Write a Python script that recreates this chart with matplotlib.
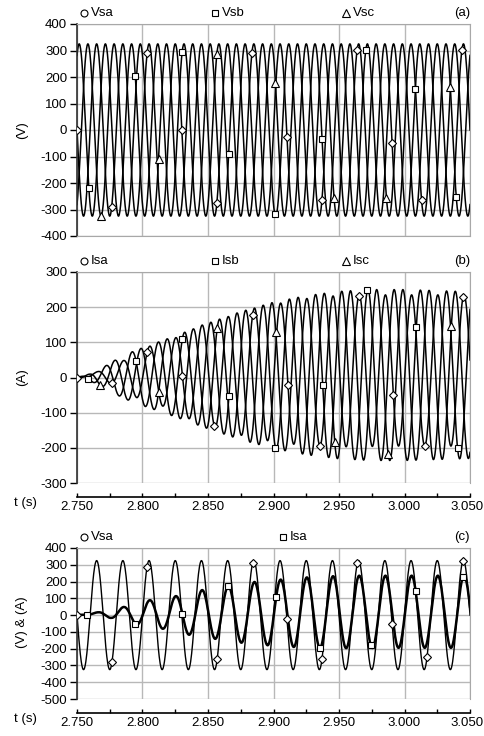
import numpy as np
import matplotlib.pyplot as plt
from matplotlib.lines import Line2D
from matplotlib.ticker import MultipleLocator, FormatStrFormatter
from matplotlib.transforms import ScaledTranslation

plt.rcParams['font.family'] = ['Liberation Sans', 'DejaVu Sans']
plt.rcParams['font.size'] = 9.5
plt.rcParams['axes.unicode_minus'] = False

# ---- waveform parameters ----
t_start, t_end = 2.750, 3.050
f_grid = 50.0          # Hz, 15 cycles in 0.3 s
v_amp = 325.0          # V peak
i_lag_deg = 8.0        # current lag behind voltage
dt = 0.00025

# Isb / Isc envelope, panel (b)
env_t = [2.750, 2.760, 2.770, 2.780, 2.790, 2.800, 2.825, 2.850, 2.875, 2.900,
         2.925, 2.950, 2.975, 3.000, 3.025, 3.050]
env_i = [0, 10, 28, 50, 68, 82, 115, 150, 182, 208, 226, 238, 243, 243, 240, 237]
env_dc = 7.0

# Isa peaks / troughs, panel (c)
isa_pk_t = [2.750, 2.766, 2.786, 2.806, 2.826, 2.846, 2.866, 2.886, 2.906, 2.926,
            2.946, 2.966, 2.986, 3.006, 3.026, 3.050]
isa_pk = [0, 17, 49, 90, 114, 150, 174, 198, 212, 225, 232, 235, 235, 235, 235, 235]
isa_tr_t = [2.750, 2.756, 2.776, 2.796, 2.816, 2.836, 2.856, 2.876, 2.896, 2.916,
            2.936, 2.956, 2.976, 2.996, 3.016, 3.036, 3.050]
isa_tr = [0, 3, -17, -58, -82, -118, -142, -165, -180, -190, -195, -197, -196,
          -195, -195, -195, -195]

# ---- marker points (t, value) ----
vsa_mk_t = [2.750, 2.7765, 2.802, 2.829, 2.8555, 2.883, 2.909, 2.935, 2.962, 2.988, 3.015, 3.042]
vsa_mk_v = [0, -290, 285, 0, -280, 290, -20, -265, 300, -40, -260, 300]
vsb_mk_t = [2.758, 2.793, 2.829, 2.864, 2.899, 2.935, 2.971, 3.006, 3.041]
vsb_mk_v = [-210, 212, 290, -95, -320, -42, 300, 165, -255]
vsc_mk_t = [2.767, 2.812, 2.856, 2.899, 2.944, 2.988, 3.032]
vsc_mk_v = [-325, -115, 285, 185, -255, -260, 165]

isa_mk_t = [2.750, 2.777, 2.803, 2.829, 2.8555, 2.883, 2.909, 2.936, 2.962, 2.989, 3.016, 3.043]
isa_mk_v = [0, -25, 70, 2, -135, 175, -24, -200, 237, -52, -206, 230]
isb_mk_t = [2.758, 2.793, 2.829, 2.864, 2.899, 2.935, 2.971, 3.006, 3.041]
isb_mk_v = [-5, 45, 112, -55, -200, -29, 249, 145, -197]
isc_mk_t = [2.767, 2.812, 2.8555, 2.8995, 2.944, 2.988, 3.032]
isc_mk_v = [-24, -41, 140, 130, -182, -214, 140]

vsa_c_mk_t = [2.750, 2.777, 2.803, 2.857, 2.884, 2.910, 2.936, 2.963, 2.990, 3.017, 3.044]
vsa_c_mk_v = [0, -280, 287, -270, 311, -24, -256, 312, -54, -250, 322]
isa_c_mk_t = [2.758, 2.794, 2.830, 2.865, 2.901, 2.935, 2.972, 3.007, 3.043]
isa_c_mk_v = [7, -52, 7, 174, 102, -195, -190, 144, 227]

t_ticks = [2.750, 2.800, 2.850, 2.900, 2.950, 3.000, 3.050]

# ---- build traces ----
t = np.arange(t_start, t_end + dt / 2, dt)
wt = 2 * np.pi * f_grid * (t - t_start)
lag = np.deg2rad(i_lag_deg)
ph = 2 * np.pi / 3

vsa = -v_amp * np.sin(wt)
vsb = -v_amp * np.sin(wt - ph)
vsc = -v_amp * np.sin(wt + ph)

env = np.interp(t, env_t, env_i)
dc = env_dc * env / max(env_i)
isb = dc - env * np.sin(wt - lag - ph)
isc = dc - env * np.sin(wt - lag + ph)

up = np.interp(t, isa_pk_t, isa_pk)
lo = np.interp(t, isa_tr_t, isa_tr)
isa = (up + lo) / 2 - (up - lo) / 2 * np.sin(wt - lag)


def snap(ys, mt, mv, ky, kx=1310.0):
    # put each read marker on the nearest point of its trace
    out_t, out_v = [], []
    for a, b in zip(mt, mv):
        d = ((t - a) * kx) ** 2 + ((ys - b) * ky) ** 2
        i = int(np.argmin(d))
        out_t.append(t[i])
        out_v.append(ys[i])
    return out_t, out_v


fig = plt.figure(figsize=(4.85, 7.36), dpi=100)
W, H = 485.0, 736.0
x0, x1 = 77, 470


def panel(top, bottom):
    return fig.add_axes([x0 / W, 1 - bottom / H, (x1 - x0) / W, (bottom - top) / H])


def style(ax, ylo, yhi, show_x):
    ax.set_xlim(t_start, t_end)
    ax.set_ylim(ylo, yhi)
    ax.yaxis.set_major_locator(MultipleLocator(100))
    ax.grid(True, color='#b8b8b8', lw=1.0)
    ax.set_axisbelow(True)
    for s in ['top', 'right']:
        ax.spines[s].set_color('#a8a8a8')
    ax.spines['left'].set_color('#303030')
    ax.spines['left'].set_linewidth(1.2)
    ax.tick_params(axis='y', direction='out', length=5, width=1, pad=2, labelsize=9.5)
    ax.xaxis.set_minor_locator(MultipleLocator(0.025))
    if show_x:
        ax.spines['bottom'].set_position(('outward', 10))
        ax.spines['bottom'].set_color('black')
        ax.spines['bottom'].set_linewidth(1.2)
        ax.tick_params(axis='x', which='both', direction='in', length=3, width=1,
                       labelsize=9.5, pad=3)
        ax.set_xticks(t_ticks, ['%.3f' % v for v in t_ticks])
        # keep the last label inside the picture
        last = ax.get_xticklabels()[-1]
        last.set_transform(last.get_transform() + ScaledTranslation(-3 / 100, 0, fig.dpi_scale_trans))
    else:
        ax.set_xticks(t_ticks)
        ax.spines['bottom'].set_color('#a8a8a8')
        ax.tick_params(axis='x', which='both', length=0, labelbottom=False)


def markers(ax, xs, ys, m, ms):
    ax.plot(xs, ys, ls='none', marker=m, ms=ms, mfc='white', mec='black', mew=0.8, zorder=5)


def legend_item(x, y, m, label, ms):
    fig.add_artist(Line2D([x / W], [1 - y / H], transform=fig.transFigure, ls='none',
                          marker=m, ms=ms, mfc='white', mec='black', mew=0.8))
    fig.text((x + 7) / W, 1 - y / H, label, ha='left', va='center', fontsize=9.5)


# (a) source voltages
ax_a = panel(24, 236)
style(ax_a, -400, 400, False)
for v in (vsa, vsb, vsc):
    ax_a.plot(t, v, color='black', lw=1.1)
ky = 212 / 800
markers(ax_a, *snap(vsa, vsa_mk_t, vsa_mk_v, ky), 'D', 4)
markers(ax_a, *snap(vsb, vsb_mk_t, vsb_mk_v, ky), 's', 5)
markers(ax_a, *snap(vsc, vsc_mk_t, vsc_mk_v, ky), '^', 5.5)

# (b) source currents
ax_b = panel(272, 483)
style(ax_b, -300, 300, True)
for i in (isa, isb, isc):
    ax_b.plot(t, i, color='black', lw=1.1)
ky = 211 / 600
markers(ax_b, *snap(isa, isa_mk_t, isa_mk_v, ky), 'D', 4)
markers(ax_b, *snap(isb, isb_mk_t, isb_mk_v, ky), 's', 5)
markers(ax_b, *snap(isc, isc_mk_t, isc_mk_v, ky), '^', 5.5)

# (c) phase a voltage and current
ax_c = panel(548, 699)
style(ax_c, -500, 400, True)
ax_c.plot(t, vsa, color='black', lw=1.0)
ax_c.plot(t, isa, color='black', lw=1.8)
ky = 151 / 900
markers(ax_c, *snap(vsa, vsa_c_mk_t, vsa_c_mk_v, ky), 'D', 4)
markers(ax_c, *snap(isa, isa_c_mk_t, isa_c_mk_v, ky), 's', 5)

# legends and labels
legend_item(84, 13, 'o', 'Vsa', 5)
legend_item(215, 13, 's', 'Vsb', 5)
legend_item(346, 13, '^', 'Vsc', 5.5)
fig.text(x1 / W, 1 - 13 / H, '(a)', ha='right', va='center', fontsize=9.5)

legend_item(84, 261, 'o', 'Isa', 5)
legend_item(215, 261, 's', 'Isb', 5)
legend_item(346, 261, '^', 'Isc', 5.5)
fig.text(x1 / W, 1 - 261 / H, '(b)', ha='right', va='center', fontsize=9.5)

legend_item(84, 537, 'o', 'Vsa', 5)
legend_item(283, 537, 's', 'Isa', 5)
fig.text(x1 / W, 1 - 537 / H, '(c)', ha='right', va='center', fontsize=9.5)

fig.text(22 / W, 1 - 130 / H, '(V)', rotation=90, ha='center', va='center', fontsize=9.5)
fig.text(22 / W, 1 - 377 / H, '(A)', rotation=90, ha='center', va='center', fontsize=9.5)
fig.text(22 / W, 1 - 622 / H, '(V) & (A)', rotation=90, ha='center', va='center', fontsize=9.5)
fig.text(25 / W, 1 - 503 / H, 't (s)', ha='center', va='center', fontsize=9.5)
fig.text(25 / W, 1 - 719 / H, 't (s)', ha='center', va='center', fontsize=9.5)

fig.savefig('out.png', dpi=100)
